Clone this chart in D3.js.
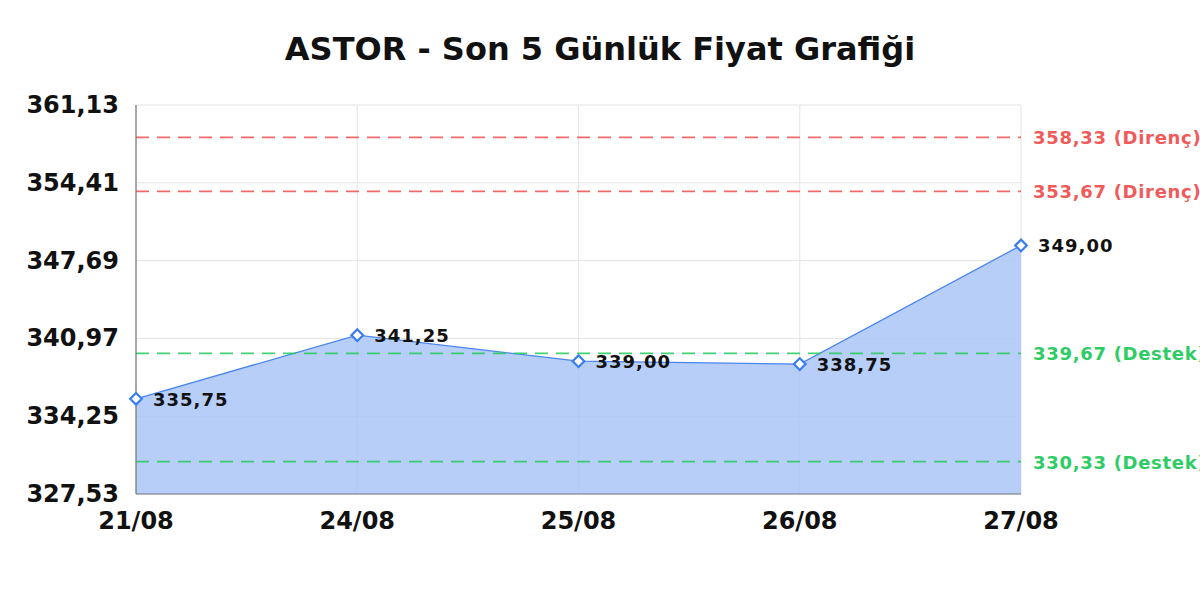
<!DOCTYPE html>
<html>
<head>
<meta charset="utf-8">
<script src="https://cdn.jsdelivr.net/npm/d3@7"></script>
<style>
  body { margin: 0; background: #fff; }
  text { font-family: "DejaVu Sans", sans-serif; font-weight: bold; }
</style>
</head>
<body>
<svg id="chart" width="1200" height="600"></svg>
<script>
const title = 'ASTOR - Son 5 Günlük Fiyat Grafiği';
const dates = ['21/08', '24/08', '25/08', '26/08', '27/08'];
const prices = [335.75, 341.25, 339.00, 338.75, 349.00];
const yTicks = [327.53, 334.25, 340.97, 347.69, 354.41, 361.13];
const resistance = [358.33, 353.67];
const support = [339.67, 330.33];

const width = 1200, height = 600;
const margin = ({top: 105, right: 179, bottom: 106, left: 136});

const fmt = v => v.toFixed(2).replace('.', ',');

const svg = d3.select('#chart');

const x = d3.scalePoint()
  .domain(dates)
  .range([margin.left, width - margin.right])
  .padding(0);

const y = d3.scaleLinear()
  .domain([yTicks[0], yTicks[yTicks.length - 1]])
  .range([height - margin.bottom, margin.top]);

// title
svg.append('text')
  .attr('x', width / 2)
  .attr('y', 60)
  .attr('text-anchor', 'middle')
  .attr('font-size', 32)
  .attr('fill', '#111')
  .text(title);

// grid
const grid = svg.append('g').attr('stroke', '#e4e4e4').attr('stroke-width', 1);
grid.selectAll('line.h')
  .data(yTicks)
  .join('line')
  .attr('x1', margin.left).attr('x2', width - margin.right)
  .attr('y1', d => y(d)).attr('y2', d => y(d));
grid.selectAll('line.v')
  .data(dates)
  .join('line')
  .attr('y1', margin.top).attr('y2', height - margin.bottom)
  .attr('x1', d => x(d)).attr('x2', d => x(d));

// area + line
const area = d3.area()
  .x((d, i) => x(dates[i]))
  .y0(y(yTicks[0]))
  .y1(d => y(d));
svg.append('path')
  .datum(prices)
  .attr('d', area)
  .attr('fill', '#a9c6f7')
  .attr('fill-opacity', 0.85);

const line = d3.line()
  .x((d, i) => x(dates[i]))
  .y(d => y(d));
svg.append('path')
  .datum(prices)
  .attr('d', line)
  .attr('fill', 'none')
  .attr('stroke', '#4a86ee')
  .attr('stroke-width', 1.3);

// reference lines
const refs = resistance.map(v => ({v, label: fmt(v) + ' (Direnç)', color: '#f05a5a'}))
  .concat(support.map(v => ({v, label: fmt(v) + ' (Destek)', color: '#2ecc64'})));

svg.append('g')
  .selectAll('line')
  .data(refs)
  .join('line')
  .attr('x1', margin.left).attr('x2', width - margin.right)
  .attr('y1', d => y(d.v)).attr('y2', d => y(d.v))
  .attr('stroke', d => d.color)
  .attr('stroke-opacity', 0.9)
  .attr('stroke-width', 1.8)
  .attr('stroke-dasharray', '13,8');

svg.append('g')
  .selectAll('text')
  .data(refs)
  .join('text')
  .attr('x', width - margin.right + 12)
  .attr('y', d => y(d.v) + 7)
  .attr('font-size', 18)
  .attr('letter-spacing', 0.7)
  .attr('fill', d => d.color)
  .text(d => d.label);

// axes lines
svg.append('line')
  .attr('x1', margin.left).attr('x2', margin.left)
  .attr('y1', margin.top).attr('y2', height - margin.bottom)
  .attr('stroke', '#777').attr('stroke-width', 1.2);
svg.append('line')
  .attr('x1', margin.left).attr('x2', width - margin.right)
  .attr('y1', height - margin.bottom).attr('y2', height - margin.bottom)
  .attr('stroke', '#777').attr('stroke-width', 1.2);

// markers
const diamond = d3.symbol().type(d3.symbolSquare).size(68);
svg.append('g')
  .selectAll('path')
  .data(prices)
  .join('path')
  .attr('d', diamond)
  .attr('transform', (d, i) => `translate(${x(dates[i])},${y(d)}) rotate(45)`)
  .attr('fill', '#fff')
  .attr('stroke', '#3a7df0')
  .attr('stroke-width', 2.2);

// point labels
svg.append('g')
  .selectAll('text')
  .data(prices)
  .join('text')
  .attr('x', (d, i) => x(dates[i]) + 17)
  .attr('y', d => y(d) + 7)
  .attr('font-size', 18)
  .attr('letter-spacing', 1)
  .attr('fill', '#111')
  .text(d => fmt(d));

// y tick labels
svg.append('g')
  .selectAll('text')
  .data(yTicks)
  .join('text')
  .attr('x', margin.left - 17)
  .attr('y', d => y(d) + 8)
  .attr('text-anchor', 'end')
  .attr('font-size', 24)
  .attr('fill', '#111')
  .text(d => fmt(d));

// x tick labels
svg.append('g')
  .selectAll('text')
  .data(dates)
  .join('text')
  .attr('x', d => x(d))
  .attr('y', height - margin.bottom + 35)
  .attr('text-anchor', 'middle')
  .attr('font-size', 24)
  .attr('fill', '#111')
  .text(d => d);
</script>
</body>
</html>
